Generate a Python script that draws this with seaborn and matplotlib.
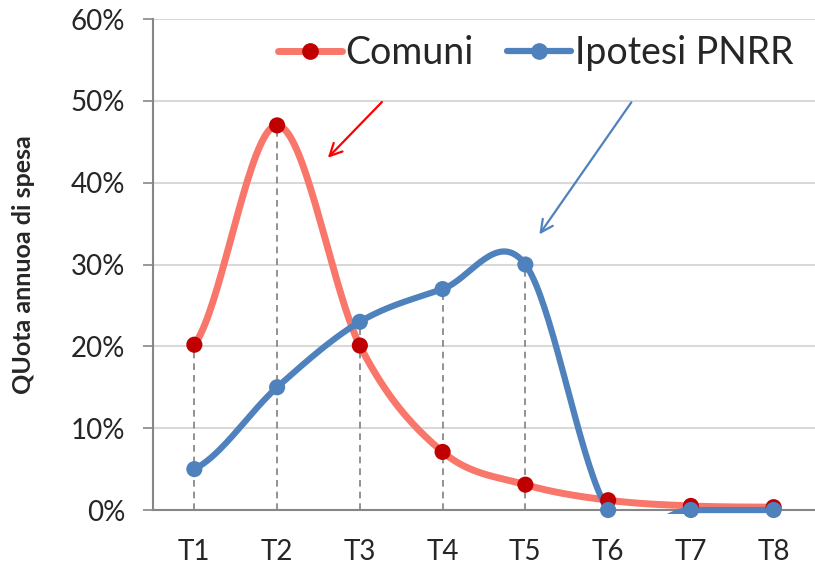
import numpy as np
import pandas as pd
import matplotlib
matplotlib.use("Agg")
import matplotlib.pyplot as plt
from matplotlib.lines import Line2D
from matplotlib.patches import Rectangle
from matplotlib.ticker import PercentFormatter, FixedLocator
import seaborn as sns

# dati del grafico
categorie = ["T1", "T2", "T3", "T4", "T5", "T6", "T7", "T8"]
comuni = [20.2, 47.0, 20.1, 7.1, 3.1, 1.2, 0.5, 0.35]
pnrr = [5.0, 15.0, 23.0, 27.0, 30.0, 0.0, 0.0, 0.0]

ROSSO_LINEA = "#F8766A"
ROSSO_PUNTO = "#C00000"
BLU = "#4F81BD"


def curva_smussata(y, n=40):
    # linea "smussata" stile Excel (bezier tipo Catmull-Rom), solo per il disegno
    xs, ys = [], []
    m = len(y)
    for i in range(m - 1):
        p0 = y[i - 1] if i > 0 else y[i]
        p3 = y[i + 2] if i + 2 < m else y[i + 1]
        b1 = y[i] + (y[i + 1] - p0) / 6
        b2 = y[i + 1] - (p3 - y[i]) / 6
        t = np.linspace(0, 1, n)
        yy = (1 - t) ** 3 * y[i] + 3 * (1 - t) ** 2 * t * b1 + 3 * (1 - t) * t ** 2 * b2 + t ** 3 * y[i + 1]
        xs.extend(i + 1 + t)
        ys.extend(yy)
    return pd.DataFrame({"x": xs, "y": ys})


sns.set_style("white")
plt.rcParams["font.family"] = ["Lato", "DejaVu Sans"]

fig = plt.figure(figsize=(8.15, 5.64), dpi=100)
ax = fig.add_axes([0.1877, 0.0957, 0.8123, 0.8706])

x = np.arange(1, len(categorie) + 1)

# linee verticali tratteggiate
for xi, a, b in zip(x, comuni, pnrr):
    ax.plot([xi, xi], [0, max(a, b)], color="#7F7F7F", lw=1.2, ls=(0, (4, 3)), zorder=1)

# curve
df_c = curva_smussata(comuni)
df_p = curva_smussata(pnrr)
sns.lineplot(data=df_c, x="x", y="y", sort=False, estimator=None, color=ROSSO_LINEA, lw=5, ax=ax, zorder=3)
sns.lineplot(data=df_p, x="x", y="y", sort=False, estimator=None, color=BLU, lw=4.5, ax=ax, zorder=4)
clip = Rectangle((0.5, -0.45), 8, 61, transform=ax.transData)
for ln in ax.lines[-2:]:
    ln.set_clip_path(clip)

sns.scatterplot(x=x, y=comuni, color=ROSSO_PUNTO, s=135, edgecolor="none", ax=ax, zorder=5, clip_on=False)
sns.scatterplot(x=x, y=pnrr, color=BLU, s=135, edgecolor="none", ax=ax, zorder=6, clip_on=False)

ax.set_xlim(0.5, 8.5)
ax.set_ylim(0, 60)
ax.set_yticks(range(0, 61, 10))
ax.yaxis.set_major_formatter(PercentFormatter(decimals=0))
ax.set_xticks(x)
ax.set_xticklabels(categorie)
ax.xaxis.set_minor_locator(FixedLocator(np.arange(0.5, 8.6, 1)))
ax.tick_params(axis="x", which="major", length=0, pad=21, labelsize=20)
ax.tick_params(axis="x", which="minor", length=8, width=1.2, color="#868686", direction="out")
ax.tick_params(axis="y", length=7, width=1.2, color="#868686", direction="out", pad=13, labelsize=20, left=True)

ax.grid(axis="y", color="#D9D9D9", lw=1.5, zorder=0)
ax.set_axisbelow(True)
for s in ["top", "right"]:
    ax.spines[s].set_visible(False)
for s in ["left", "bottom"]:
    ax.spines[s].set_color("#868686")
    ax.spines[s].set_linewidth(1.5)

ax.set_xlabel("")
ax.set_ylabel("QUota annuoa di spesa", fontsize=18, fontweight="bold", labelpad=26)

# frecce
ax.annotate("", xy=(2.59, 42.8), xytext=(3.29, 50.1),
            arrowprops=dict(arrowstyle="->", color="#FF0000", lw=1.6, mutation_scale=22))
ax.annotate("", xy=(5.15, 33.4), xytext=(6.3, 50.1),
            arrowprops=dict(arrowstyle="->", color=BLU, lw=1.6, mutation_scale=22))

# legenda
handles = [
    Line2D([], [], color=ROSSO_LINEA, lw=5, marker="o", markersize=11,
           markerfacecolor=ROSSO_PUNTO, markeredgecolor=ROSSO_PUNTO, solid_capstyle="round"),
    Line2D([], [], color=BLU, lw=4.5, marker="o", markersize=11,
           markerfacecolor=BLU, markeredgecolor=BLU, solid_capstyle="round"),
]
ax.legend(handles, ["Comuni", "Ipotesi PNRR"], loc="center right", bbox_to_anchor=(0.99, 0.93),
          ncol=2, frameon=False, fontsize=27, handlelength=1.7, handletextpad=0.1,
          columnspacing=0.9, borderaxespad=0)

fig.savefig("out.png", dpi=100)
